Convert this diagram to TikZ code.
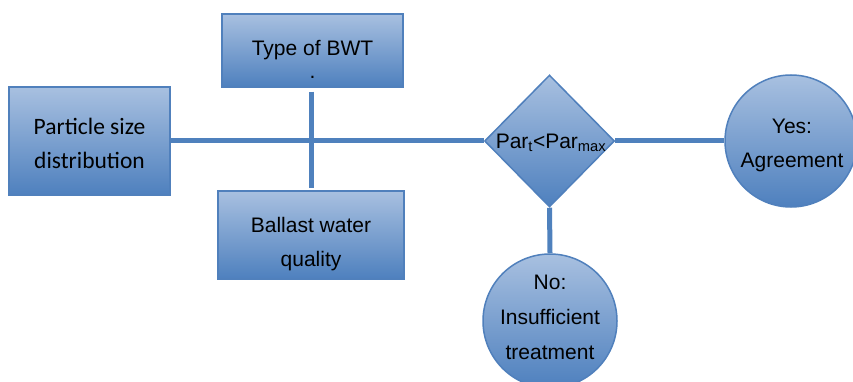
\documentclass[tikz,border=0pt]{standalone}
\usepackage{fontspec}
\setmainfont{Liberation Sans}
\newfontfamily\calfont{Carlito}
\usetikzlibrary{shapes.geometric,calc}
\definecolor{topblue}{RGB}{168,192,224}
\definecolor{botblue}{RGB}{78,128,190}
\definecolor{edgeblue}{RGB}{80,128,188}
\definecolor{lineblue}{RGB}{79,129,189}
\begin{document}
\begin{tikzpicture}[x=1pt,y=-1pt,
  filled/.style={draw=edgeblue,line width=1.5pt,top color=topblue,bottom color=botblue,inner sep=0pt},
  boxshape/.style={filled,rectangle},
  lbl/.style={font=\fontsize{21}{34}\selectfont,align=center,inner sep=0pt},
  conn/.style={draw=lineblue,line width=5pt}]
\useasboundingbox (0,0) rectangle (853,382);
\clip (0,0) rectangle (853,382);
% boxes
\node[boxshape,minimum width=161pt,minimum height=108pt] (psd) at (89.5,141) {};
\node[boxshape,minimum width=181pt,minimum height=73pt] (bwt) at (312.5,50.5) {};
\node[boxshape,minimum width=186pt,minimum height=88pt] (bwq) at (311,235) {};
\node[filled,diamond,aspect=1,minimum width=130pt,minimum height=132pt] (dec) at (549.5,141) {};
\node[filled,circle,minimum size=132pt] (yes) at (791,141) {};
\node[filled,circle,minimum size=134pt] (no) at (550,321) {};
% texts
\node[lbl,font=\calfont\fontsize{23.5}{34}\selectfont] (psdt) at (89.5,143) {Particle size\\distribution};
\node[lbl,font=\fontsize{21}{23}\selectfont] (bwtt) at (312.5,59) {Type of BWT\\.};
\node[lbl] (bwqt) at (311,244) {Ballast water\\quality};
\node[lbl] (dect) at (551,143) {Par\textsubscript{t}<Par\textsubscript{max}};
\node[lbl] (yest) at (792,145) {Yes:\\Agreement};
\node[lbl,font=\fontsize{21}{35}\selectfont] (not) at (550,317) {No:\\Insufficient\\treatment};
% connectors
\draw[conn] (psd.east) -- (dec.west);
\draw[conn] (dec.east) -- (yes.west);
\draw[conn] (dec.south) -- (no.north);
\coordinate (vtop) at ($(bwt.south)+(-1.5,4)$);
\coordinate (vbot) at ($(bwq.north)+(0,-2)$);
\draw[conn] (vtop) -- (vbot);
\end{tikzpicture}
\end{document}
